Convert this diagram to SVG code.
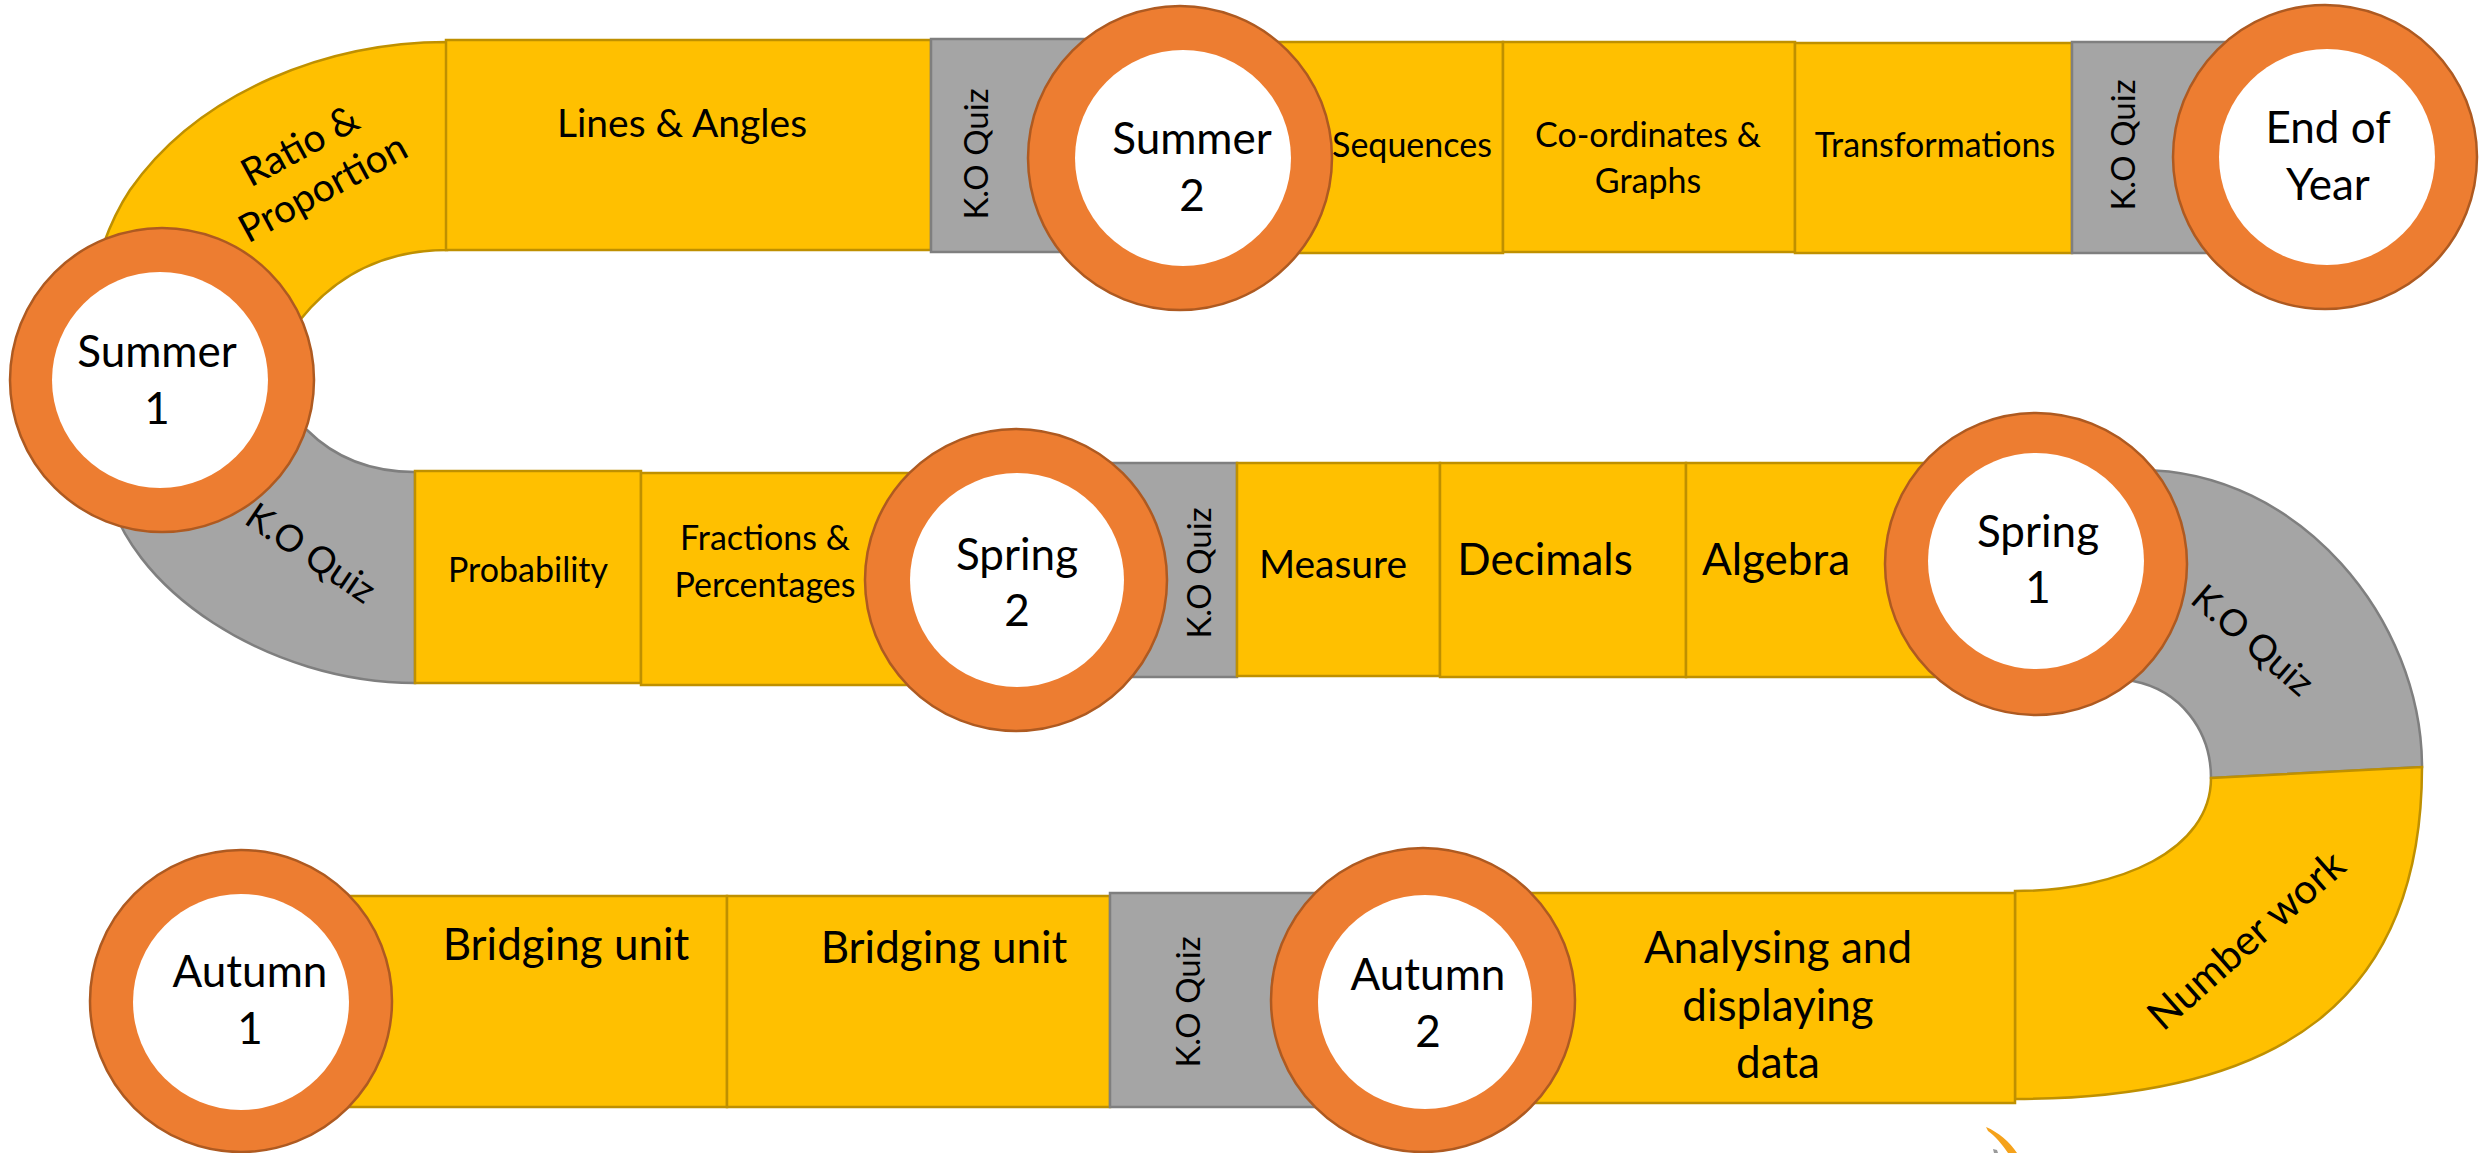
<svg xmlns="http://www.w3.org/2000/svg" width="2479" height="1153" viewBox="0 0 2479 1153">
<style>
.y{fill:#FFC000;stroke:#BF9000;stroke-width:2.5}
.g{fill:#A5A5A5;stroke:#7F7F7F;stroke-width:2.5}
.ring{fill:#ED7D31;stroke:#AE5A21;stroke-width:2.5}
.hole{fill:#FFFFFF}
text{font-family:Lato,"Liberation Sans",sans-serif;fill:#000;text-anchor:middle}
.c{font-size:44px}
.s34{font-size:34px}
.s39{font-size:39px}
.s44{font-size:44px}
.ko{font-size:33px}
.kc{font-size:37px}
</style>
<rect width="2479" height="1153" fill="#FFFFFF"/>

<!-- top row -->
<g id="ratio-proportion">
<path class="y" d="M447,42 C330,42 200,90 130,190 C110,220 95,260 80,330 L80,380 L260,380 L300,320 C340,270 390,250 447,250 Z"/>
<g transform="translate(312,168) rotate(-28.5)">
<text class="s39" x="0" y="-12">Ratio &amp;</text>
<text class="s39" x="0" y="36">Proportion</text>
</g>
</g>
<g id="lines-angles">
<rect class="y" x="446" y="40" width="485" height="210"/>
<text class="s39" x="682" y="137">Lines &amp; Angles</text>
</g>
<g id="ko-quiz-1">
<rect class="g" x="931" y="39" width="170" height="213"/>
<text class="ko" transform="translate(976,154) rotate(-90)" dy="0.35em">K.O Quiz</text>
</g>
<g id="sequences">
<rect class="y" x="1100" y="42" width="403" height="211"/>
<text class="s34" x="1412" y="157">Sequences</text>
</g>
<g id="coordinates-graphs">
<rect class="y" x="1503" y="42" width="292" height="210"/>
<text class="s34" x="1648" y="147">Co-ordinates &amp;</text>
<text class="s34" x="1648" y="193">Graphs</text>
</g>
<g id="transformations">
<rect class="y" x="1795" y="43" width="277" height="210"/>
<text class="s34" x="1935" y="157">Transformations</text>
</g>
<g id="ko-quiz-2">
<rect class="g" x="2072" y="42" width="168" height="211"/>
<text class="ko" transform="translate(2123,145) rotate(-90)" dy="0.35em">K.O Quiz</text>
</g>

<!-- middle row -->
<g id="ko-quiz-3">
<path class="g" d="M80,380 L100,470 L105,480 C125,590 270,683 415,683 L415,472 C370,472 335,458 307,430 L260,380 Z"/>
<text class="kc" transform="translate(311,553) rotate(34)" dy="0.35em">K.O Quiz</text>
</g>
<g id="probability">
<rect class="y" x="415" y="471" width="226" height="212"/>
<text class="s34" x="528" y="582">Probability</text>
</g>
<g id="fractions-percentages">
<rect class="y" x="641" y="473" width="300" height="212"/>
<text class="s34" x="765" y="550">Fractions &amp;</text>
<text class="s34" x="765" y="597">Percentages</text>
</g>
<g id="ko-quiz-4">
<rect class="g" x="1090" y="463" width="147" height="214"/>
<text class="ko" transform="translate(1199,573) rotate(-90)" dy="0.35em">K.O Quiz</text>
</g>
<g id="measure">
<rect class="y" x="1237" y="463" width="203" height="213"/>
<text class="s39" x="1333" y="578">Measure</text>
</g>
<g id="decimals">
<rect class="y" x="1440" y="463" width="246" height="214"/>
<text class="s44" x="1545" y="575">Decimals</text>
</g>
<g id="algebra">
<rect class="y" x="1686" y="463" width="260" height="214"/>
<text class="s44" x="1776" y="575">Algebra</text>
</g>
<g id="ko-quiz-5">
<path class="g" d="M2100,470 L2140,470 C2300,470 2422,620 2422,767 L2211,778 C2211,730 2180,690 2133,681 L2100,681 Z"/>
<text class="kc" transform="translate(2253,640) rotate(40.8)" dy="0.35em">K.O Quiz</text>
</g>
<g id="number-work">
<path class="y" d="M2211,778 L2422,767 C2422,1000 2280,1099 2015,1099 L2015,891 C2120,891 2211,850 2211,778 Z"/>
<text class="kc" transform="translate(2246,940) rotate(-41.4)" dy="0.35em" style="font-size:41px">Number work</text>
</g>

<!-- bottom row -->
<g id="bridging-unit-1">
<rect class="y" x="320" y="896" width="407" height="211"/>
<text class="s44" x="566" y="960">Bridging unit</text>
</g>
<g id="bridging-unit-2">
<rect class="y" x="727" y="896" width="383" height="211"/>
<text class="s44" x="944" y="963">Bridging unit</text>
</g>
<g id="ko-quiz-6">
<rect class="g" x="1110" y="893" width="230" height="214"/>
<text class="ko" transform="translate(1188,1002) rotate(-90)" dy="0.35em">K.O Quiz</text>
</g>
<g id="analysing-data">
<rect class="y" x="1500" y="893" width="515" height="210"/>
<text class="s44" x="1778" y="963">Analysing and</text>
<text class="s44" x="1778" y="1021">displaying</text>
<text class="s44" x="1778" y="1078">data</text>
</g>

<!-- milestones -->
<g id="summer-1">
<circle class="ring" cx="162" cy="380" r="152"/>
<circle class="hole" cx="160" cy="380" r="108"/>
<text class="c" x="157" y="367">Summer</text>
<text class="c" x="157" y="424">1</text>
</g>
<g id="summer-2">
<circle class="ring" cx="1180" cy="158" r="152"/>
<circle class="hole" cx="1183" cy="158" r="108"/>
<text class="c" x="1192" y="154">Summer</text>
<text class="c" x="1192" y="211">2</text>
</g>
<g id="end-of-year">
<circle class="ring" cx="2325" cy="157" r="152"/>
<circle class="hole" cx="2327" cy="157" r="108"/>
<text class="c" x="2328" y="143">End of</text>
<text class="c" x="2328" y="200">Year</text>
</g>
<g id="spring-2">
<circle class="ring" cx="1016" cy="580" r="151"/>
<circle class="hole" cx="1017" cy="580" r="107"/>
<text class="c" x="1017" y="570">Spring</text>
<text class="c" x="1017" y="626">2</text>
</g>
<g id="spring-1">
<circle class="ring" cx="2036" cy="564" r="151"/>
<circle class="hole" cx="2036" cy="561" r="108"/>
<text class="c" x="2038" y="547">Spring</text>
<text class="c" x="2038" y="603">1</text>
</g>
<g id="autumn-1">
<circle class="ring" cx="241" cy="1001" r="151"/>
<circle class="hole" cx="241" cy="1002" r="108"/>
<text class="c" x="250" y="987">Autumn</text>
<text class="c" x="250" y="1044">1</text>
</g>
<g id="autumn-2">
<circle class="ring" cx="1423" cy="1000" r="152"/>
<circle class="hole" cx="1425" cy="1002" r="107"/>
<text class="c" x="1428" y="990">Autumn</text>
<text class="c" x="1428" y="1047">2</text>
</g>

<g id="partial-logo">
<path d="M1986,1127 C1998,1132 2010,1142 2017,1153 L2008,1153 C2002,1144 1995,1136 1988,1131 Z" fill="#F5A21B"/>
<path d="M1993,1149 L1997,1150 L1998,1153 L1994,1153 Z" fill="#9A9A9A"/>
</g>
</svg>
